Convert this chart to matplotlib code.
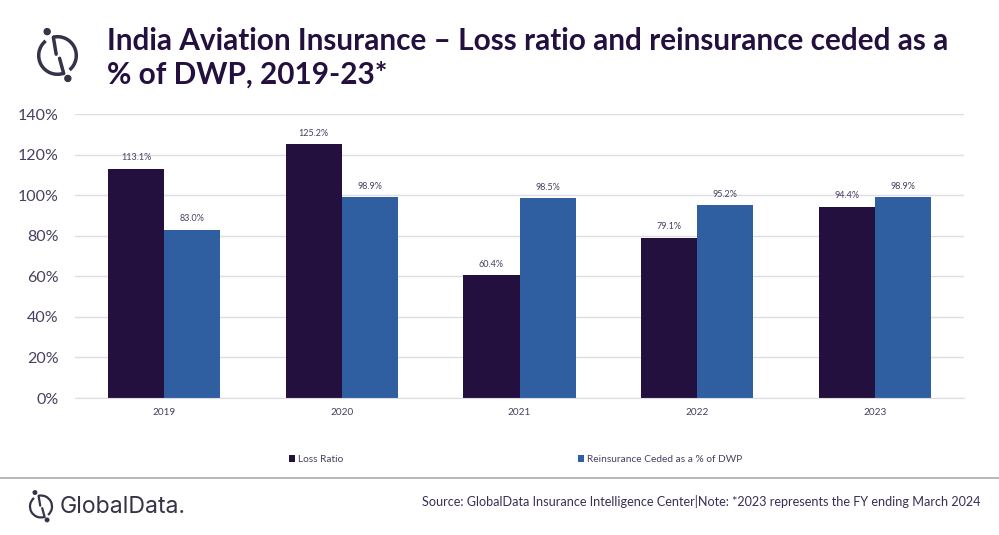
import matplotlib
matplotlib.use('Agg')
import matplotlib.pyplot as plt
from matplotlib.patches import Arc, Circle

years = ['2019', '2020', '2021', '2022', '2023']
loss_ratio = [113.1, 125.2, 60.4, 79.1, 94.4]
reinsurance = [83.0, 98.9, 98.5, 95.2, 98.9]
series_names = ['Loss Ratio', 'Reinsurance Ceded as a % of DWP']
yticks = [0, 20, 40, 60, 80, 100, 120, 140]

title = 'India Aviation Insurance \u2013 Loss ratio and reinsurance ceded as a\n% of DWP, 2019-23*'
source = 'Source: GlobalData Insurance Intelligence Center|Note: *2023 represents the FY ending March 2024'

DARK = '#24103F'
BLUE = '#2F5FA1'
TEXT = '#4A3F60'
LOGO = '#363348'

plt.rcParams['font.family'] = ['Lato', 'DejaVu Sans']

W, H = 999, 535
fig = plt.figure(figsize=(W / 100, H / 100), dpi=100, facecolor='white')

# overlay in pixel coordinates for title, logos, footer
bg = fig.add_axes([0, 0, 1, 1])
bg.set_xlim(0, W)
bg.set_ylim(H, 0)
bg.axis('off')

ax = fig.add_axes([75 / W, 1 - 398 / H, 889 / W, 284 / H])
bar_w = 0.315
x = list(range(len(years)))
bars1 = ax.bar([i - bar_w / 2 for i in x], loss_ratio, bar_w, color=DARK, label=series_names[0])
bars2 = ax.bar([i + bar_w / 2 for i in x], reinsurance, bar_w, color=BLUE, label=series_names[1])

for bars, vals in [(bars1, loss_ratio), (bars2, reinsurance)]:
    for b, v in zip(bars, vals):
        ax.annotate('%.1f%%' % v, (b.get_x() + b.get_width() / 2, v), xytext=(0, 4.5),
                    textcoords='offset points', ha='center', va='bottom',
                    fontsize=6.5, color=TEXT)

ax.set_xlim(-0.5, 4.5)
ax.set_ylim(0, 140)
ax.set_xticks(x)
ax.set_xticklabels(years, fontsize=7.2, color=TEXT)
ax.set_yticks(yticks)
ax.set_yticklabels(['%d%%' % t for t in yticks], fontsize=11.5, color=TEXT)
ax.tick_params(axis='both', length=0)
ax.tick_params(axis='x', pad=7.5)
ax.tick_params(axis='y', pad=12)
ax.grid(axis='y', color='#DEDEE2', linewidth=1)
ax.set_axisbelow(True)
for s in ['top', 'right', 'left']:
    ax.spines[s].set_visible(False)
ax.spines['bottom'].set_color('#DEDEE2')

fig.legend(handles=[bars1], labels=[series_names[0]], loc='center left',
           bbox_to_anchor=(288.5 / W, 1 - 459.5 / H), frameon=False, fontsize=7.3,
           labelcolor=TEXT, handlelength=0.62, handleheight=0.62, handletextpad=0.3,
           borderpad=0, borderaxespad=0)
fig.legend(handles=[bars2], labels=[series_names[1]], loc='center left',
           bbox_to_anchor=(577.5 / W, 1 - 459.5 / H), frameon=False, fontsize=7.3,
           labelcolor=TEXT, handlelength=0.62, handleheight=0.62, handletextpad=0.3,
           borderpad=0, borderaxespad=0)

bg.text(107, 57.5, title, fontsize=21.4, fontweight='bold', color=DARK, va='center',
        ha='left', linespacing=1.24)


def logo(cx, cy, r, lw):
    # y axis is inverted here, so arc angles run the other way round
    bg.add_patch(Arc((cx, cy), 2 * r, 2 * r, theta1=-103, theta2=50, color=LOGO, lw=lw))
    bg.add_patch(Arc((cx, cy), 2 * r, 2 * r, theta1=71, theta2=231, color=LOGO, lw=lw))
    bg.plot([cx - 0.22 * r, cx - 0.07 * r], [cy - 0.97 * r, cy - 0.07 * r], color=LOGO, lw=lw, solid_capstyle='round')
    bg.plot([cx + 0.11 * r, cx + 0.33 * r], [cy + 0.15 * r, cy + 0.96 * r], color=LOGO, lw=lw, solid_capstyle='round')
    bg.add_patch(Circle((cx - 0.55 * r, cy - 1.27 * r), 0.16 * r, color=LOGO))
    bg.add_patch(Circle((cx + 0.55 * r, cy + 1.22 * r), 0.16 * r, color=LOGO))


logo(57.5, 55.5, 18.8, 2.5)
logo(41, 506.5, 11, 1.6)
bg.text(60, 507, 'GlobalData.', fontsize=16.6, family=['Inter', 'DejaVu Sans'], color=LOGO,
        va='center', ha='left')

bg.plot([0, W], [478, 478], color='#ABABAB', lw=1.2)
bg.text(980, 502, source, fontsize=9.1, color='#3A2D55', ha='right', va='center')

fig.savefig('out.png', dpi=100)
